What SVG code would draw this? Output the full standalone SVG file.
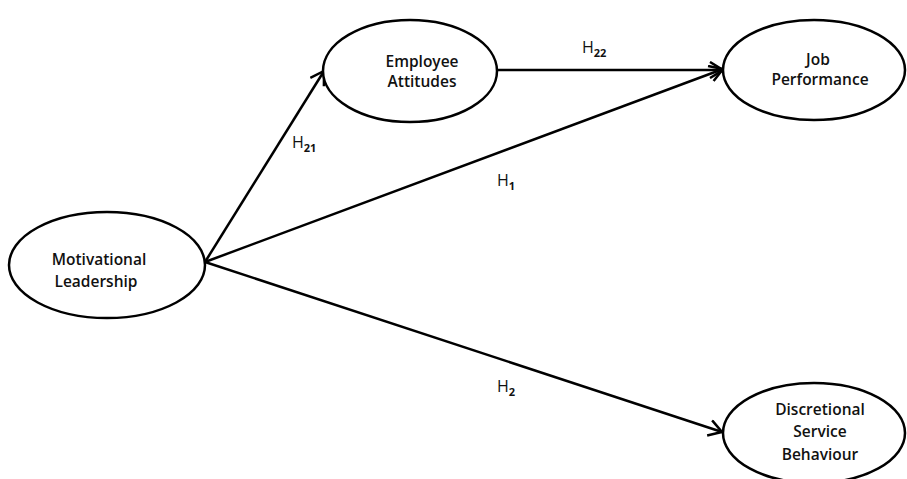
<svg xmlns="http://www.w3.org/2000/svg" width="907" height="479" viewBox="0 0 907 479">
<style>
.node{fill:#fff;stroke:#000;stroke-width:2.5}
.t{font-family:"Open Sans","Liberation Sans",sans-serif;font-size:15.5px;font-weight:600;fill:#111;text-anchor:middle}
.h{font-family:"Open Sans","Liberation Sans",sans-serif;font-size:16px;fill:#111}
.s{font-size:11px;font-weight:700}
.c{stroke:#000;stroke-width:2.5;fill:none;marker-end:url(#arr)}
</style>
<defs>
<marker id="arr" markerUnits="userSpaceOnUse" markerWidth="16" markerHeight="18" refX="14" refY="9" orient="auto" viewBox="0 0 16 18">
<path d="M1,1 L14,9 L1,17" fill="none" stroke="#000" stroke-width="2.5"/>
</marker>
</defs>
<rect width="907" height="479" fill="#fff"/>
<g id="connectors">
<line class="c" x1="205" y1="262" x2="324" y2="71"/>
<line class="c" x1="497" y1="70" x2="723" y2="70"/>
<line class="c" x1="205" y1="262" x2="723" y2="69"/>
<line class="c" x1="205" y1="262" x2="722" y2="432"/>
</g>
<g id="labels">
<text class="h" x="292" y="148">H<tspan class="s" dy="4">21</tspan></text>
<text class="h" x="582" y="53">H<tspan class="s" dy="4">22</tspan></text>
<text class="h" x="497" y="186">H<tspan class="s" dy="4">1</tspan></text>
<text class="h" x="497" y="392">H<tspan class="s" dy="4">2</tspan></text>
</g>
<g id="motivational-leadership">
<ellipse class="node" cx="107" cy="265" rx="98" ry="53"/>
<text class="t" x="99" y="265">Motivational</text>
<text class="t" x="96" y="287">Leadership</text>
</g>
<g id="employee-attitudes">
<ellipse class="node" cx="410" cy="71" rx="87" ry="51"/>
<text class="t" x="422" y="67">Employee</text>
<text class="t" x="422" y="87">Attitudes</text>
</g>
<g id="job-performance">
<ellipse class="node" cx="814" cy="70" rx="91" ry="50"/>
<text class="t" x="818" y="65">Job</text>
<text class="t" x="820" y="85">Performance</text>
</g>
<g id="discretional-service-behaviour">
<ellipse class="node" cx="814" cy="433" rx="91" ry="50"/>
<text class="t" x="820" y="415">Discretional</text>
<text class="t" x="820" y="437">Service</text>
<text class="t" x="820" y="460">Behaviour</text>
</g>
</svg>
